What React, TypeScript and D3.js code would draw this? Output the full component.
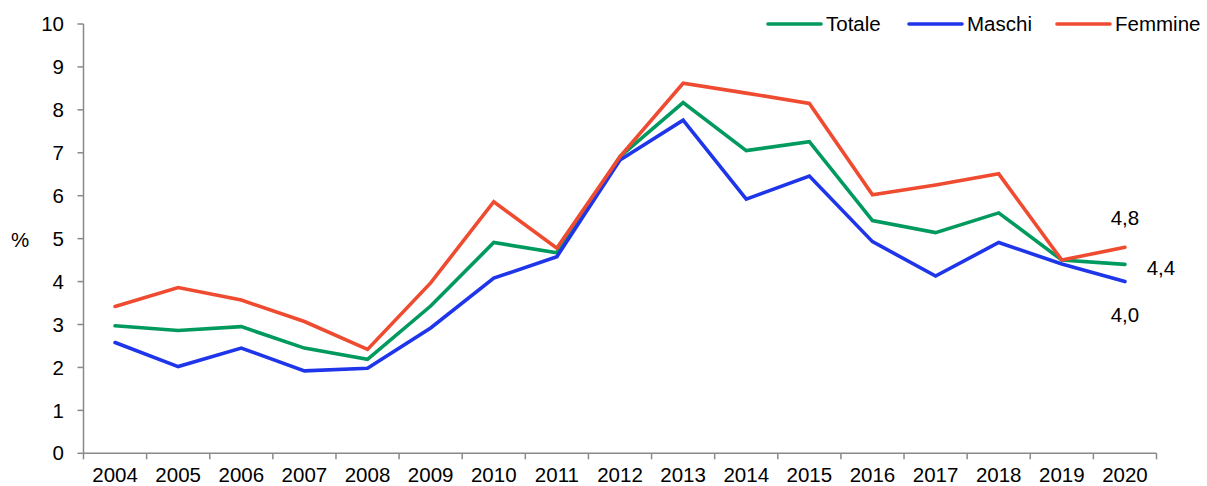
import React from 'react';
import * as d3 from 'd3';

const years = ['2004', '2005', '2006', '2007', '2008', '2009', '2010', '2011', '2012', '2013', '2014', '2015', '2016', '2017', '2018', '2019', '2020'];
const totale = [2.97, 2.86, 2.95, 2.45, 2.19, 3.43, 4.91, 4.67, 6.91, 8.17, 7.05, 7.26, 5.42, 5.14, 5.6, 4.5, 4.4];
const maschi = [2.58, 2.02, 2.45, 1.92, 1.98, 2.92, 4.08, 4.58, 6.83, 7.76, 5.92, 6.46, 4.93, 4.13, 4.91, 4.41, 4.0];
const femmine = [3.42, 3.86, 3.57, 3.07, 2.42, 3.97, 5.86, 4.78, 6.91, 8.62, 8.39, 8.15, 6.02, 6.25, 6.51, 4.5, 4.8];
const yTicks = [0, 1, 2, 3, 4, 5, 6, 7, 8, 9, 10];
const endLabels = ['4,8', '4,4', '4,0'];

const series = [
  { name: 'Totale', values: totale, color: '#009a5e' },
  { name: 'Maschi', values: maschi, color: '#1f35ea' },
  { name: 'Femmine', values: femmine, color: '#ef4b30' },
];

const W = 1207;
const H = 486;
const left = 83.5;
const right = 1156.5;
const top = 24;
const bottom = 453.3;
const font = '"Liberation Sans", Arial, sans-serif';
const fs = 20.5;

export default function App() {
  const x = d3.scaleBand<string>().domain(years).range([left, right]);
  const y = d3.scaleLinear().domain([0, 10]).range([bottom, top]);
  const cx = (i: number) => (x(years[i]) as number) + x.bandwidth() / 2;
  const line = d3
    .line<number>()
    .x((_, i) => cx(i))
    .y((d) => y(d));
  const last = years.length - 1;

  // legend entries: line start, text start
  const legend = [
    { x0: 768, tx: 826 },
    { x0: 909, tx: 967 },
    { x0: 1057, tx: 1115 },
  ];

  return (
    <svg
      width={W}
      height={H}
      style={{ position: 'absolute', left: 0, top: 0, background: '#fff' }}
      fontFamily={font}
    >
      {/* y axis */}
      <line x1={left} x2={left} y1={top} y2={bottom} stroke="#898989" strokeWidth={1.5} />
      {yTicks.map((t) => (
        <g key={t}>
          <line x1={left - 6} x2={left} y1={y(t)} y2={y(t)} stroke="#898989" strokeWidth={1.5} />
          <text x={64} y={y(t)} dy="0.35em" textAnchor="end" fontSize={fs} fill="#000">
            {t}
          </text>
        </g>
      ))}
      <text x={20} y={240} dy="0.35em" textAnchor="middle" fontSize={fs}>
        %
      </text>

      {/* x axis */}
      <line x1={left} x2={right} y1={bottom} y2={bottom} stroke="#898989" strokeWidth={1.5} />
      {[...years, 'end'].map((yr, i) => {
        const px = left + i * x.step();
        return <line key={yr} x1={px} x2={px} y1={bottom} y2={bottom + 6} stroke="#898989" strokeWidth={1.5} />;
      })}
      {years.map((yr, i) => (
        <text key={yr} x={cx(i)} y={482} textAnchor="middle" fontSize={fs}>
          {yr}
        </text>
      ))}

      {/* lines */}
      {series.map((s) => (
        <path
          key={s.name}
          d={line(s.values) as string}
          fill="none"
          stroke={s.color}
          strokeWidth={3.6}
          strokeLinejoin="miter"
          strokeLinecap="round"
        />
      ))}

      {/* end labels */}
      <text x={cx(last)} y={y(femmine[last]) - 29} dy="0.35em" textAnchor="middle" fontSize={fs}>
        {endLabels[0]}
      </text>
      <text x={cx(last) + 36} y={y(totale[last]) + 3} dy="0.35em" textAnchor="middle" fontSize={fs}>
        {endLabels[1]}
      </text>
      <text x={cx(last)} y={y(maschi[last]) + 33} dy="0.35em" textAnchor="middle" fontSize={fs}>
        {endLabels[2]}
      </text>

      {/* legend */}
      {series.map((s, i) => (
        <g key={s.name}>
          <line x1={legend[i].x0} x2={legend[i].x0 + 53} y1={24} y2={24} stroke={s.color} strokeWidth={3.6} strokeLinecap="round" />
          <text x={legend[i].tx} y={24} dy="0.35em" fontSize={fs}>
            {s.name}
          </text>
        </g>
      ))}
    </svg>
  );
}
